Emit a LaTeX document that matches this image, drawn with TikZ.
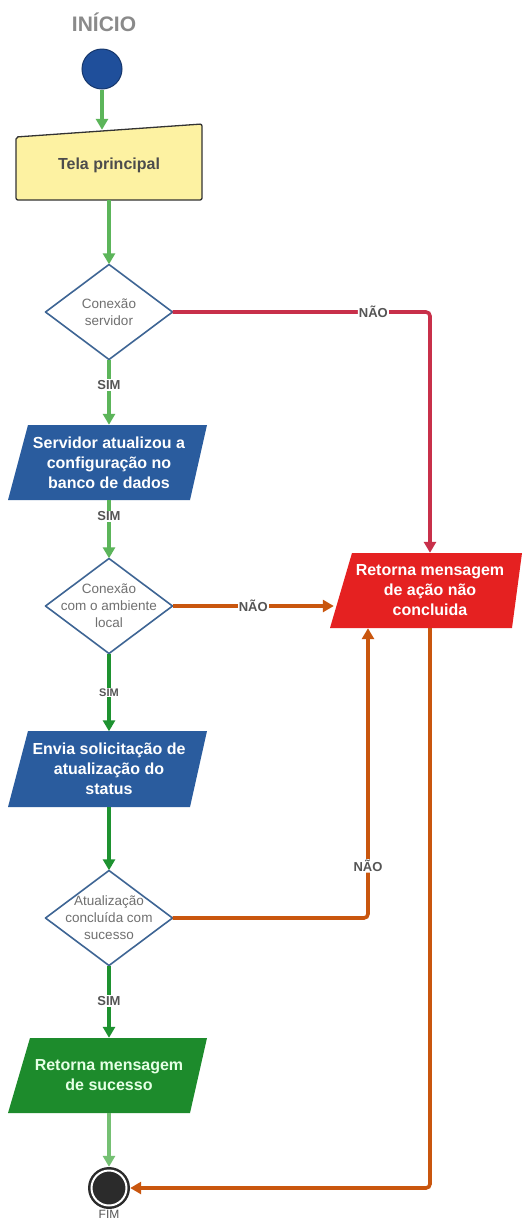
\documentclass[tikz,border=0pt]{standalone}
\usepackage{fontspec}
\setmainfont{Liberation Sans}
\usetikzlibrary{arrows.meta,calc}
\definecolor{lgreen}{HTML}{5CB55A}
\definecolor{dgreen}{HTML}{1E9230}
\definecolor{redline}{HTML}{C8304A}
\definecolor{orangeline}{HTML}{C9560E}
\definecolor{boxblue}{HTML}{2A5C9E}
\definecolor{boxred}{HTML}{E52121}
\definecolor{boxgreen}{HTML}{1D8B2C}
\definecolor{telafill}{HTML}{FDF2A2}
\definecolor{dborder}{HTML}{3E6594}
\definecolor{navy}{HTML}{1F4F9B}
\definecolor{lblgray}{HTML}{555555}
\definecolor{dtext}{HTML}{707070}
\definecolor{titlegray}{HTML}{8A8A8A}
\definecolor{endfill}{HTML}{2B2B2B}
\begin{document}
\begin{tikzpicture}[x=1pt,y=-1pt,
  box/.style={inner sep=0pt, minimum width=180pt, minimum height=75pt, align=center,
    font=\fontsize{16}{20}\selectfont\bfseries, text=white},
  dec/.style={inner sep=0pt, minimum width=127pt, minimum height=95pt, align=center,
    font=\fontsize{13.5}{17}\selectfont, text=dtext},
  decshape/.style={draw=dborder, line width=1.6pt, fill=white, line join=round},
  conn/.style={line width=3.6pt, -{Triangle[length=11pt,width=12pt]}},
  lbl/.style={fill=white, inner sep=1pt, font=\fontsize{13}{13}\selectfont\bfseries, text=lblgray},
]
\useasboundingbox[fill=white] (0,0) rectangle (526,1219);

% title and start
\node[font=\fontsize{21}{21}\selectfont\bfseries, text=titlegray] (titulo) at (104,22) {INÍCIO};
\node[circle, fill=navy, draw=navy!70!black, line width=1pt, minimum size=40pt, inner sep=0pt] (inicio) at (102,69) {};

% Tela principal (manual input)
\filldraw[fill=telafill, draw=black!80, line width=1.3pt, rounded corners=2pt]
  (16,137) -- (202,124) -- (202,200) -- (16,200) -- cycle;
\node[inner sep=0pt, minimum width=186pt, minimum height=70pt,
  font=\fontsize{16}{20}\selectfont\bfseries, text=black!70] (tela) at (109,165) {Tela principal};

% decisions
\path[decshape] (109,264.5) -- (172.5,312) -- (109,359.5) -- (45.5,312) -- cycle;
\node[dec] (d1) at (109,312) {Conexão\\servidor};
\path[decshape] (109,558.5) -- (172.5,606) -- (109,653.5) -- (45.5,606) -- cycle;
\node[dec] (d2) at (109,606) {Conexão\\com o ambiente\\local};
\path[decshape] (109,870.5) -- (172.5,918) -- (109,965.5) -- (45.5,918) -- cycle;
\node[dec] (d3) at (109,918) {Atualização\\concluída com\\sucesso};

% parallelograms
\fill[boxblue] (28,425) -- (207,425) -- (190,500) -- (8,500) -- cycle;
\node[box] (srv) at (109,462.5) {Servidor atualizou a\\configuração no\\banco de dados};

\fill[boxblue] (28,731) -- (207,731) -- (190,807) -- (8,807) -- cycle;
\node[box] (env) at (109,769) {Envia solicitação de\\atualização do\\status};

\fill[boxred] (352,553) -- (522,553) -- (512,628) -- (330,628) -- cycle;
\node[box, minimum width=192pt] (ret) at (430,590.5) {Retorna mensagem\\de ação não\\concluida};

\fill[boxgreen] (30,1038) -- (207,1038) -- (190,1113) -- (8,1113) -- cycle;
\node[box, text=green!10!white] (suc) at (109,1075.5) {Retorna mensagem\\de sucesso};

% end
\node[circle, fill=endfill, inner sep=0pt, minimum size=42pt] (fim) at (109,1188) {};
\draw[white, line width=2pt] (fim.center) circle (17.5pt);
\node[font=\fontsize{12}{12}\selectfont, text=lblgray] (fimlbl) at (109,1214) {FIM};

% connectors
\draw[conn, lgreen] (inicio.south) -- (inicio.south |- tela.north);
\draw[conn, lgreen] (tela.south) -- (d1.north);
\draw[conn, lgreen] (d1.south) -- node[lbl, pos=0.39] {SIM} (srv.north);
\draw[conn, lgreen] (srv.south) -- node[lbl, pos=0.28] {SIM} (d2.north);
\draw[conn, dgreen] (d2.south) -- node[lbl, pos=0.5, font=\fontsize{11}{11}\selectfont\bfseries] {SIM} (env.north);
\draw[conn, dgreen] (env.south) -- (d3.north);
\draw[conn, dgreen] (d3.south) -- node[lbl, pos=0.49] {SIM} (suc.north);
\draw[conn, lgreen!85!white] (suc.south) -- (fim.north);

\draw[conn, redline, rounded corners=4pt] (d1.east) -| node[lbl, pos=0.39] {NÃO} (ret.north);
\draw[conn, orangeline] (d2.east) -- node[lbl] {NÃO} (d2.east -| ret.west);
\draw[conn, orangeline, rounded corners=4pt] (d3.east) -| node[lbl, pos=0.59] {NÃO} ($(ret.south)+(-62,0)$);
\draw[conn, orangeline, rounded corners=4pt] (ret.south) |- (fim.east);
\end{tikzpicture}
\end{document}
